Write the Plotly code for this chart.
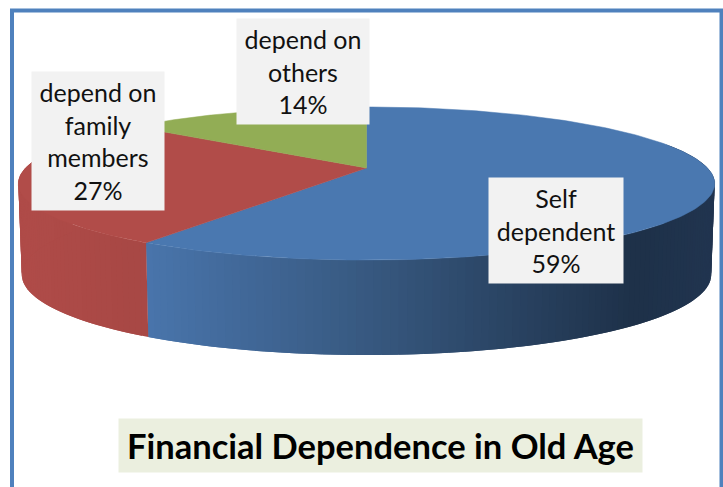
import numpy as np
import plotly.graph_objects as go

labels = ["Self<br>dependent", "depend on<br>family<br>members", "depend on<br>others"]
values = [59, 27, 14]
top_colors = ["#4a78b0", "#b14c49", "#92ad55"]
title_text = "Financial Dependence in Old Age"

W, H = 723, 487
CX, CY, A, K, P = 366.5, 168, 341, 73.4, 0.2026


def project(theta, drop=0.0):
    X, Y = np.sin(theta), -np.cos(theta)
    d = 1 - P * Y
    x = CX + A * X / d
    y = CY + K * Y / d
    if drop:
        x = CX + (x - CX) * 0.99
        y = y + 90 + 5 * Y
    return x, y


def wall_color(i, x):
    if i == 1:
        stops = [(18, (176, 76, 73)), (143, (168, 72, 69))]
    elif i == 0:
        stops = [(143, (74, 118, 173)), (380, (55, 88, 127)), (640, (30, 49, 73)), (716, (33, 53, 80))]
    else:
        stops = [(0, (146, 173, 85)), (723, (146, 173, 85))]
    xs = [s[0] for s in stops]
    rgb = [int(np.interp(x, xs, [s[1][c] for s in stops])) for c in range(3)]
    return "rgb(%d,%d,%d)" % tuple(rgb)


fig = go.Figure()
edges = np.concatenate([[0], np.cumsum(values)]) / sum(values) * 2 * np.pi

# side walls, drawn as narrow overlapping strips so the shading changes along the rim
for i in range(len(values)):
    a0, a1 = edges[i], edges[i + 1]
    n = max(2, int((a1 - a0) / 0.02))
    grid = np.linspace(a0, a1, n + 1)
    step = grid[1] - grid[0]
    for t0, t1 in zip(grid[:-1], grid[1:]):
        if -np.cos((t0 + t1) / 2) < -0.35:
            continue
        tt = np.linspace(t0, t1 + (step if t1 < a1 - step / 2 else 0), 4)
        x_t, y_t = project(tt)
        x_b, y_b = project(tt, drop=1)
        xs = np.concatenate([x_t, x_b[::-1], x_t[:1]])
        ys = np.concatenate([y_t, y_b[::-1], y_t[:1]])
        c = wall_color(i, float(project(np.array([t0]))[0][0]))
        fig.add_trace(go.Scatter(x=xs, y=ys, mode="lines", fill="toself", fillcolor=c,
                                 line=dict(color=c, width=0), hoverinfo="skip", showlegend=False))

# top faces
for i in range(len(values)):
    tt = np.linspace(edges[i], edges[i + 1], 200)
    x_t, y_t = project(tt)
    xs = np.concatenate([[CX], x_t, [CX]])
    ys = np.concatenate([[CY], y_t, [CY]])
    fig.add_trace(go.Scatter(x=xs, y=ys, mode="lines", fill="toself", fillcolor=top_colors[i],
                             line=dict(color=top_colors[i], width=0.5), hoverinfo="skip", showlegend=False))

label_boxes = [(556, 230.5, 134, 105), (98, 141, 132, 138), (303, 71.5, 132, 105)]
annotations = []
for lab, v, (bx, by, bw, bh) in zip(labels, values, label_boxes):
    annotations.append(dict(x=bx, y=by, xref="x", yref="y", text=f"{lab}<br>{v}%", showarrow=False,
                            width=bw, height=bh, bgcolor="#f2f2f2", borderpad=0, align="center", valign="middle",
                            font=dict(family="Lato", size=25, color="#111111")))
annotations.append(dict(x=380.5, y=445.5, xref="x", yref="y", text=f"<b>{title_text}</b>", showarrow=False,
                        width=523, height=53, bgcolor="#ebefdf", borderpad=0, align="center", valign="middle",
                        font=dict(family="Lato", size=34.5, color="#000000")))

fig.update_layout(
    width=W, height=H, margin=dict(l=0, r=0, t=0, b=0),
    paper_bgcolor="white", plot_bgcolor="white", showlegend=False,
    xaxis=dict(range=[0, W], visible=False, fixedrange=True),
    yaxis=dict(range=[H, 0], visible=False, fixedrange=True),
    annotations=annotations,
    shapes=[dict(type="rect", xref="x", yref="y", x0=12, y0=10.5, x1=721.5, y1=520,
                 line=dict(color="#4f81bd", width=4), layer="above")],
)
fig.write_html("out.html", config=dict(displayModeBar=False),
               post_script="document.body.style.margin='0';document.body.style.overflow='hidden';")
